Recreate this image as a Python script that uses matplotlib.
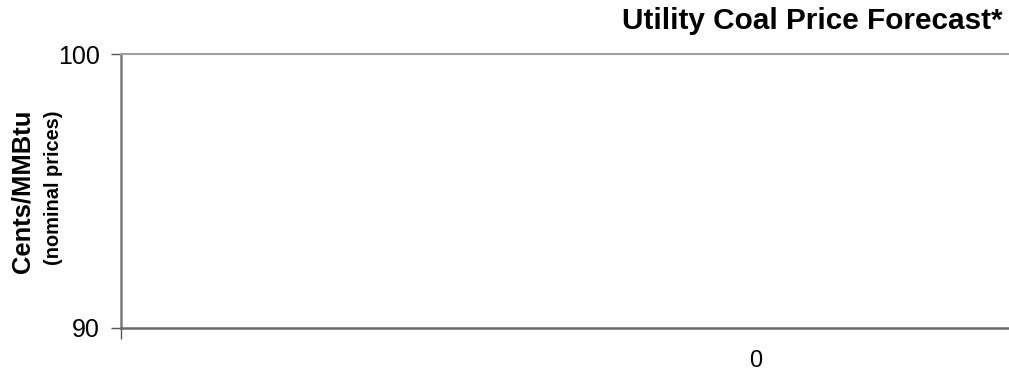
import matplotlib
matplotlib.use("Agg")
import matplotlib.pyplot as plt

# chart data
categories = ["0"]
prices = [0]          # no visible bar inside the 90-100 window
y_ticks = [90, 100]
y_range = (90, 100)

plt.rcParams["font.family"] = ["Liberation Sans", "DejaVu Sans"]

fig = plt.figure(figsize=(10.09, 3.75), dpi=100)
# axes runs past the right edge, as in the original crop
ax = fig.add_axes([121 / 1009, 47.5 / 375, 1270 / 1009, 273.5 / 375])

x = list(range(len(categories)))
ax.bar(x, prices, width=0.6, color="#808080")

ax.set_ylim(*y_range)
ax.set_yticks(y_ticks)
ax.set_xlim(-0.5, len(categories) - 0.5)
ax.set_xticks(x)
ax.set_xticklabels(categories)
ax.set_xticks([-0.5], minor=True)

ax.tick_params(axis="y", labelsize=18, length=7, width=1, color="#555555", pad=8)
ax.tick_params(axis="x", which="major", labelsize=17, length=0, pad=16)
ax.tick_params(axis="x", which="minor", length=8, width=1, color="#555555")

ax.spines["right"].set_visible(False)
ax.spines["top"].set_color("#a0a0a0")
ax.spines["top"].set_linewidth(1.5)
ax.spines["bottom"].set_color("#6a6a6a")
ax.spines["bottom"].set_linewidth(1.8)
ax.spines["left"].set_color("#7a7a7a")
ax.spines["left"].set_linewidth(1.8)

fig.text(1003 / 1009, 1 - 7 / 375, "Utility Coal Price Forecast*",
         ha="right", va="top", fontsize=21.4, fontweight="bold")
fig.text(23 / 1009, 1 - 191 / 375, "Cents/MMBtu", rotation=90,
         ha="center", va="center", fontsize=18.4, fontweight="bold")
fig.text(54 / 1009, 1 - 188 / 375, "(nominal prices)", rotation=90,
         ha="center", va="center", fontsize=14.4, fontweight="bold")

fig.savefig("out.png", dpi=100)
